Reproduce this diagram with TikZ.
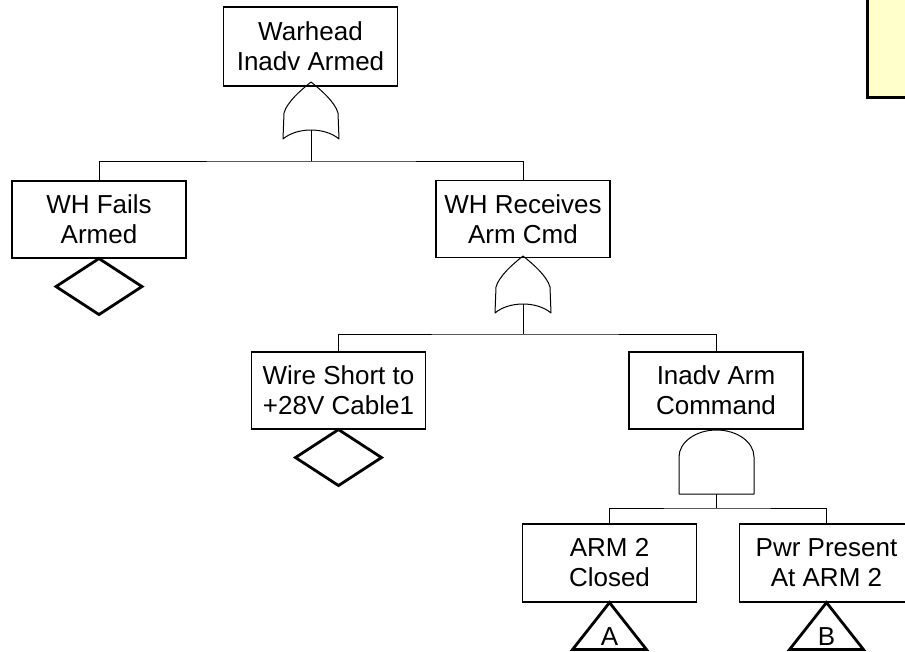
\documentclass[tikz,border=0pt]{standalone}
\usepackage{fontspec}
\setmainfont{Liberation Sans}
\definecolor{notefill}{HTML}{FFFFCC}
\begin{document}
\begin{tikzpicture}[x=1pt,y=-1pt,
  ev/.style={draw, line width=1.1pt, minimum width=174pt, minimum height=77pt, inner sep=0pt, align=center, font=\fontsize{26}{30}\selectfont},
  con/.style={line width=1pt},
  gateline/.style={line width=1pt, line join=round},
  sym/.style={line width=2.8pt, line join=miter},
  orgate/.pic={\draw[gateline] (-28,57) -- (-27,31) .. controls (-24,20) and (-10,8) .. (0,0) .. controls (10,8) and (24,20) .. (27,31) -- (28,57) .. controls (14,45) and (-14,45) .. cycle; \coordinate (-out) at (0,48);},
  andgate/.pic={\draw[gateline] (-37.5,64) -- (-37.5,27) .. controls (-37.5,12.1) and (-20.7,0) .. (0,0) .. controls (20.7,0) and (37.5,12.1) .. (37.5,27) -- (37.5,64) -- cycle; \coordinate (-out) at (0,64);},
  undev/.pic={\draw[sym] (0,0) -- (43,28) -- (0,56) -- (-43,28) -- cycle;},
  xfer/.pic={\draw[sym] (0,0) -- (37,47) -- (-37,47) -- cycle; \node[inner sep=0pt, font=\fontsize{26}{30}\selectfont] (-lbl) at (0,34) {#1};}
]
\useasboundingbox (0,0) rectangle (905,651);
\clip (0,0) rectangle (905,651);
\fill[white] (0,0) rectangle (905,651);

% note box (cut off at the page edge)
\node[draw, line width=3pt, fill=notefill, minimum width=90pt, minimum height=130pt, inner sep=0pt, anchor=south west] (note) at (865.5,98.5) {};

% events
\node[ev, minimum height=79pt] (top) at (310.5,46.5) {Warhead\\Inadv Armed};
\node[ev] (whf) at (99,219.5) {WH Fails\\Armed};
\node[ev] (whr) at (523,219) {WH Receives\\Arm Cmd};
\node[ev] (wire) at (338.5,390.5) {Wire Short to\\+28V Cable1};
\node[ev] (inadv) at (716,390.5) {Inadv Arm\\Command};
\node[ev, minimum height=78pt] (arm) at (609.5,563) {ARM 2\\Closed};
\node[ev, minimum height=78pt] (pwr) at (826.5,563) {Pwr Present\\At ARM 2};

% gates
\pic (g1) at (311,82) {orgate};
\pic (g2) at (523,256) {orgate};
\pic (g3) at (716.5,430) {andgate};

% basic / undeveloped / transfer symbols
\pic at (whf.south) {undev};
\pic at (wire.south) {undev};
\pic (ta) at (arm.south) {xfer=A};
\pic (tb) at (pwr.south) {xfer=B};

% connectors
\coordinate (j1) at (311,161);
\draw[con] (g1-out) -- (j1);
\draw[con] (whf.north) |- (j1) -| (whr.north);
\coordinate (j2) at (523,334);
\draw[con] (g2-out) -- (j2);
\draw[con] (wire.north) |- (j2) -| (inadv.north);
\coordinate (j3) at (716.5,508);
\draw[con] (g3-out) -- (j3);
\draw[con] (arm.north) |- (j3) -| (pwr.north);
\end{tikzpicture}
\end{document}
